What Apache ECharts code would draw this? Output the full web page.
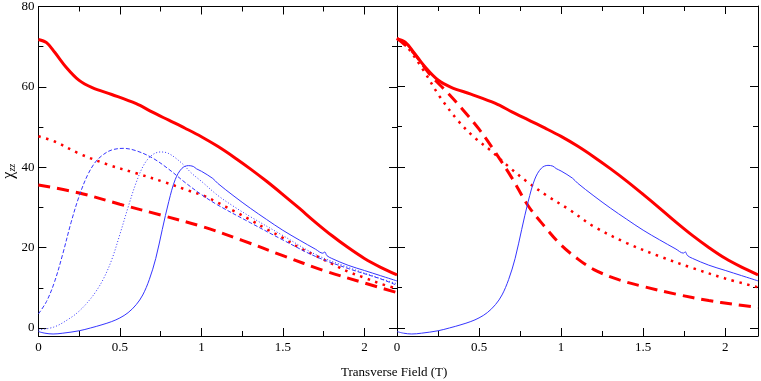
<!DOCTYPE html>
<html>
<head>
<meta charset="utf-8">
<script src="https://cdn.jsdelivr.net/npm/echarts@6/dist/echarts.min.js"></script>
<style>
html,body{margin:0;padding:0;background:#fff;}
#chart{width:761px;height:381px;}
</style>
</head>
<body>
<div id="chart"></div>
<script>
// red solid: same curve in both panels
var redSolidX=[0,0.05,0.1,0.17,0.25,0.33,0.45,0.6,0.7,0.8,0.9,1.0,1.1,1.2,1.3,1.4,1.5,1.6,1.7,1.8,1.9,2.0,2.1,2.2];
var redSolidY=[71.8,71.0,68.6,64.9,61.6,59.8,58.1,55.8,53.7,51.7,49.7,47.6,45.2,42.5,39.6,36.5,33.2,29.8,26.3,23.0,20.0,17.3,15.1,13.2];

// blue solid: same curve in both panels
var blueSolidX=[0,0.04,0.09,0.15,0.25,0.32,0.39,0.45,0.5,0.55,0.6,0.64,0.68,0.72,0.76,0.8,0.84,0.88,0.92,0.95,0.97,1.0,1.07,1.1,1.2,1.3,1.4,1.5,1.6,1.7,1.745,1.757,1.77,1.8,1.9,2.0,2.1,2.2];
var blueSolidY=[-0.9,-1.3,-1.5,-1.3,-0.7,0.0,0.8,1.6,2.5,3.8,5.8,8.2,12.0,17.3,24.5,31.5,37.0,39.7,40.4,40.2,39.6,39.0,37.2,36.0,32.8,29.8,27.0,24.3,21.9,19.6,18.6,18.9,18.0,17.3,15.6,14.3,13.0,11.7];

// left panel
var leftRedDotX=[0,0.1,0.25,0.43,0.6,0.78,0.92,1.02,1.1,1.2,1.3,1.4,1.5,1.6,1.7,1.8,1.9,2.0,2.1,2.2];
var leftRedDotY=[47.7,46.4,43.4,40.6,38.5,36.2,34.2,32.8,31.2,29.1,26.9,24.6,22.4,20.0,18.0,16.0,14.0,12.5,11.0,9.8];
var leftRedDashX=[0,0.25,0.5,0.75,1.0,1.25,1.5,1.75,2.0,2.2];
var leftRedDashY=[35.6,33.6,30.8,28.1,25.3,21.8,18.0,14.3,11.2,8.8];
var leftBlueDashX=[0,0.05,0.1,0.15,0.2,0.25,0.3,0.35,0.4,0.45,0.52,0.6,0.7,0.8,0.9,1.0,1.1,1.3,1.5,1.7,1.9,2.1,2.2];
var leftBlueDashY=[3.5,6.6,11.6,18.5,26.2,32.8,37.9,41.3,43.2,44.3,44.7,44.1,42.3,39.5,36.2,33.2,30.6,26.2,21.9,17.8,14.8,12.2,10.6];
var leftBlueDotX=[0,0.1,0.2,0.25,0.3,0.35,0.4,0.45,0.5,0.55,0.6,0.65,0.7,0.75,0.8,0.88,0.94,1.0,1.1,1.2,1.3,1.5,1.7,1.9,2.1,2.2];
var leftBlueDotY=[-0.5,0.3,2.6,4.2,6.3,8.9,12.3,17.0,23.3,30.0,36.2,40.8,43.1,43.8,43.4,41.0,38.5,36.5,33.0,30.2,27.7,23.0,18.3,15.1,12.3,11.0];

// right panel
var rightRedDotX=[0,0.06,0.16,0.26,0.37,0.47,0.57,0.68,0.8,0.92,1.05,1.2,1.4,1.6,1.8,2.0,2.2];
var rightRedDotY=[72.0,69.9,64.1,57.5,51.6,47.4,44.1,40.1,36.1,32.7,29.4,25.2,21.1,17.8,14.9,12.3,10.1];
var rightRedDashX=[0,0.1,0.2,0.3,0.4,0.5,0.6,0.7,0.8,0.9,1.0,1.1,1.2,1.35,1.5,1.7,1.9,2.05,2.2];
var rightRedDashY=[72.0,68.4,63.0,58.8,54.3,49.4,43.6,37.3,30.3,25.2,20.6,17.2,14.5,12.0,10.3,8.4,6.8,5.9,5.1];

var xTicks=[0,0.5,1,1.5,2];
var yTicks=[0,20,40,60,80];

function pairs(xs,ys){
    var out=[];
    for(var i=0;i<xs.length;i++){
        out.push([xs[i],ys[i]]);
    }
    return out;
}

var RED='#ff0000',BLUE='#3535ff';
var FONT='Liberation Serif';

function line(grid,xs,ys,color,width,dash){
    return {
        type:'line',
        xAxisIndex:grid*2,
        yAxisIndex:grid*2,
        data:pairs(xs,ys),
        showSymbol:false,
        smooth:0.35,
        animation:false,
        lineStyle:{color:color,width:width,type:dash||'solid'}
    };
}

function xAx(grid,pos){
    return {
        type:'value',gridIndex:grid,position:pos,
        min:0,max:2.2,interval:0.5,
        axisLine:{onZero:false,lineStyle:{color:'#000',width:1}},
        axisTick:{inside:true,length:8,lineStyle:{color:'#000'}},
        minorTick:{show:true,splitNumber:2,length:5,lineStyle:{color:'#000'}},
        splitLine:{show:false},
        axisLabel:{show:pos=='bottom',showMaxLabel:false,margin:5,color:'#000',fontFamily:FONT,fontSize:13,
            formatter:function(v){return xTicks.indexOf(v)>=0?String(v):'';}}
    };
}

function yAx(grid,pos,labels){
    var ax={
        type:'value',gridIndex:grid,position:pos,
        min:-2,max:80,splitNumber:4,
        axisLine:{onZero:false,lineStyle:{color:'#000',width:1}},
        axisTick:{inside:true,length:8,lineStyle:{color:'#000'}},
        minorTick:{show:true,splitNumber:2,length:5,lineStyle:{color:'#000'}},
        splitLine:{show:false},
        axisLabel:{show:labels,showMinLabel:false,margin:4,color:'#000',fontFamily:FONT,fontSize:13,
            formatter:function(v){return yTicks.indexOf(v)>=0?String(v):'';}}
    };
    if(labels){
        ax.name='{g|χ}{s|zz}';
        ax.nameLocation='middle';
        ax.nameGap=17;
        ax.nameTextStyle={color:'#000',fontFamily:FONT,
            rich:{
                g:{fontSize:16,fontFamily:FONT,color:'#000'},
                s:{fontSize:10,fontStyle:'italic',fontFamily:FONT,color:'#000',padding:[7,0,0,0]}
            }};
    }
    return ax;
}

var myChart=echarts.init(document.getElementById('chart'));
var option={
    backgroundColor:'#fff',
    animation:false,
    grid:[
        {left:35,top:6,width:362,height:330},
        {left:397,top:6,width:361,height:330}
    ],
    xAxis:[xAx(0,'bottom'),xAx(0,'top'),xAx(1,'bottom'),xAx(1,'top')],
    yAxis:[yAx(0,'left',true),yAx(0,'right',false),yAx(1,'left',false),yAx(1,'right',false)],
    graphic:[{
        type:'text',left:341,top:366,
        style:{text:'Transverse Field (T)',fill:'#000',font:'13px "Liberation Serif"'}
    }],
    series:[
        line(0,leftRedDashX,leftRedDashY,RED,3,[12,7]),
        line(0,leftRedDotX,leftRedDotY,RED,2.5,[2.5,5.5]),
        line(0,leftBlueDotX,leftBlueDotY,BLUE,1,[1,2]),
        line(0,leftBlueDashX,leftBlueDashY,BLUE,1,[4,2]),
        line(0,blueSolidX,blueSolidY,BLUE,1),
        line(0,redSolidX,redSolidY,RED,3),

        line(1,rightRedDashX,rightRedDashY,RED,3,[12,7]),
        line(1,rightRedDotX,rightRedDotY,RED,2.5,[2.5,5.5]),
        line(1,blueSolidX,blueSolidY,BLUE,1),
        line(1,redSolidX,redSolidY,RED,3)
    ]
};
myChart.setOption(option);
</script>
</body>
</html>
